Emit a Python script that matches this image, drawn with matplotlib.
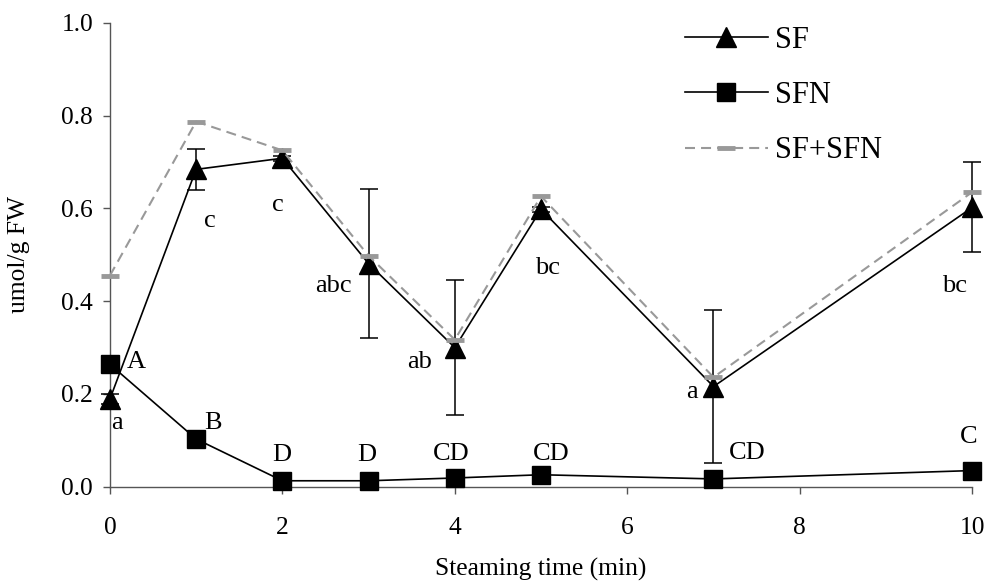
import matplotlib
matplotlib.use("Agg")
import matplotlib.pyplot as plt

plt.rcParams["font.family"] = ["Liberation Serif", "DejaVu Serif"]

# steaming time (min)
time = [0, 1, 2, 3, 4, 5, 7, 10]

sf = [0.189, 0.684, 0.708, 0.481, 0.300, 0.598, 0.216, 0.602]
sf_err = [0.010, 0.044, 0.005, 0.161, 0.146, 0.005, 0.165, 0.097]
sfn = [0.264, 0.103, 0.013, 0.013, 0.019, 0.026, 0.017, 0.035]
total = [0.455, 0.787, 0.725, 0.498, 0.317, 0.626, 0.236, 0.635]

# significance letters: (x, y, text)
sf_letters = [
    (0.08, 0.137, "a"),
    (1.16, 0.572, "c"),
    (1.95, 0.608, "c"),
    (2.59, 0.432, "abc"),
    (3.59, 0.270, "ab"),
    (5.07, 0.471, "bc"),
    (6.75, 0.205, "a"),
    (9.80, 0.432, "bc"),
]
sfn_letters = [
    (0.31, 0.270, "A"),
    (1.20, 0.137, "B"),
    (1.99, 0.069, "D"),
    (2.98, 0.069, "D"),
    (3.96, 0.071, "CD"),
    (5.12, 0.071, "CD"),
    (7.39, 0.073, "CD"),
    (9.96, 0.108, "C"),
]

gray = "#999999"

fig = plt.figure(figsize=(9.9, 5.83), dpi=100)
ax = fig.add_axes([0.111, 0.165, 0.871, 0.796])

eb = ax.errorbar(time, sf, yerr=sf_err, fmt="none", ecolor="black",
                 elinewidth=1.1, capsize=6.5, capthick=1.1, zorder=2)
for art in eb.lines[1] + eb.lines[2]:
    art.set_clip_on(False)

ax.plot(time, sf, color="black", lw=1.2, marker="^", markersize=14,
        markerfacecolor="black", markeredgecolor="black", label="SF",
        zorder=3, clip_on=False)
ax.plot(time, sfn, color="black", lw=1.2, marker="s", markersize=12.5,
        markerfacecolor="black", markeredgecolor="black", label="SFN",
        zorder=3, clip_on=False)
ax.plot(time, total, color=gray, lw=1.5, linestyle=(0, (4.8, 2.9)),
        marker="_", markersize=13, markeredgewidth=3.5,
        markeredgecolor=gray, label="SF+SFN", zorder=4, clip_on=False)

for x, y, t in sf_letters + sfn_letters:
    ax.text(x, y, t, fontsize=19, ha="center", va="center")

ax.set_xlim(0, 10)
ax.set_ylim(0, 1.0)
ax.set_xticks([0, 2, 4, 6, 8, 10])
ax.set_yticks([0.0, 0.2, 0.4, 0.6, 0.8, 1.0])
ax.set_yticklabels(["0.0", "0.2", "0.4", "0.6", "0.8", "1.0"])

for side in ["top", "right"]:
    ax.spines[side].set_visible(False)
for side in ["left", "bottom"]:
    ax.spines[side].set_color("#555555")
    ax.spines[side].set_linewidth(1.0)
    ax.spines[side].set_zorder(1)

ax.tick_params(axis="x", direction="out", length=5, width=1.0,
               color="#555555", labelsize=18.4, pad=17)
ax.tick_params(axis="y", direction="out", length=5, width=1.0,
               color="#555555", labelsize=18.4, pad=7)

ax.set_xlabel("Steaming time (min)", fontsize=18.4, labelpad=13)
ax.set_ylabel("umol/g FW", fontsize=18.4, labelpad=23)

ax.legend(loc="upper left", bbox_to_anchor=(0.692, 0.956),
          bbox_transform=fig.transFigure, frameon=False, fontsize=22,
          handlelength=2.7, handletextpad=0.25, labelspacing=0.86,
          borderpad=0, borderaxespad=0)

fig.savefig("out.png", dpi=100)
